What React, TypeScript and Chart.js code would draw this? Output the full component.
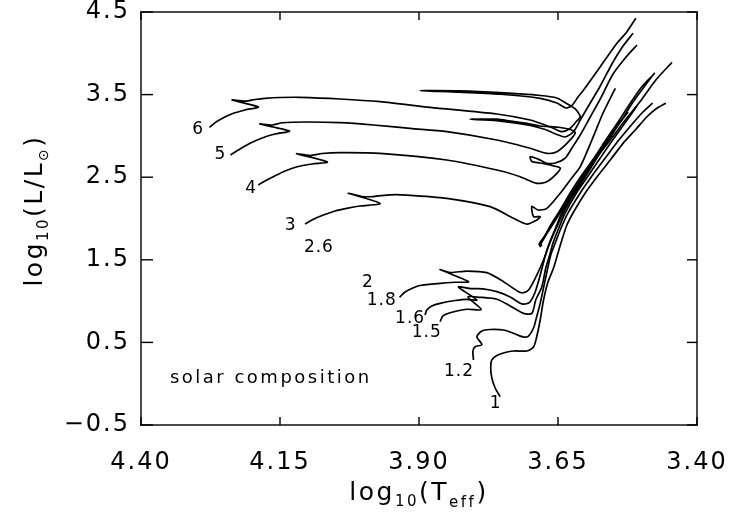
import { useEffect, useRef } from "react";
import { Chart, registerables } from "chart.js";

Chart.register(...registerables);

type P = [number, number];

// Evolutionary tracks, each point is [log10 Teff, log10 L/Lsun]
const track6: P[] = [
  [4.277, 3.104], [4.265, 3.168], [4.251, 3.223], [4.235, 3.271], [4.213, 3.314], [4.189, 3.35],
  [4.236, 3.435], [4.213, 3.422], [4.195, 3.441], [4.177, 3.455], [4.15, 3.465], [4.114, 3.467],
  [4.042, 3.447], [3.97, 3.414], [3.88, 3.346], [3.76, 3.265], [3.7, 3.192], [3.673, 3.132],
  [3.658, 3.092], [3.643, 3.051], [3.628, 3.092], [3.618, 3.168], [3.61, 3.232],
  [3.619, 3.326], [3.636, 3.398], [3.652, 3.459], [3.682, 3.489], [3.754, 3.523], [3.826, 3.544], [3.898, 3.547],
  [3.826, 3.529], [3.754, 3.504], [3.682, 3.455], [3.652, 3.398], [3.636, 3.338], [3.625, 3.368],
  [3.614, 3.471], [3.604, 3.556], [3.574, 3.838], [3.544, 4.121], [3.526, 4.262], [3.51, 4.424],
];

const track5: P[] = [
  [4.239, 2.769], [4.222, 2.841], [4.204, 2.91], [4.182, 2.975], [4.159, 3.023], [4.133, 3.059],
  [4.186, 3.144], [4.164, 3.132], [4.146, 3.159], [4.102, 3.168], [4.042, 3.16], [3.982, 3.132],
  [3.916, 3.09], [3.85, 3.051], [3.76, 2.95], [3.7, 2.85], [3.67, 2.789], [3.652, 2.809],
  [3.634, 2.91], [3.619, 3.035],
  [3.628, 3.077], [3.646, 3.102], [3.682, 3.12], [3.7, 3.144], [3.736, 3.18], [3.76, 3.202], [3.808, 3.201],
  [3.76, 3.186], [3.7, 3.126], [3.673, 3.077], [3.652, 3.017], [3.637, 2.987], [3.622, 3.051],
  [3.61, 3.192], [3.592, 3.398], [3.574, 3.604], [3.551, 3.895], [3.533, 4.088], [3.515, 4.242],
];

const track4: P[] = [
  [4.189, 2.406], [4.177, 2.454], [4.162, 2.506], [4.141, 2.575], [4.119, 2.627], [4.092, 2.66], [4.065, 2.684],
  [4.12, 2.784], [4.096, 2.763], [4.074, 2.787], [4.042, 2.797], [3.97, 2.789], [3.85, 2.708],
  [3.76, 2.587], [3.718, 2.506], [3.688, 2.426], [3.67, 2.445], [3.652, 2.547], [3.646, 2.611],
  [3.661, 2.642], [3.682, 2.672], [3.697, 2.69], [3.7, 2.748], [3.682, 2.708], [3.67, 2.668], [3.655, 2.672],
  [3.637, 2.732], [3.625, 2.853], [3.61, 3.011], [3.592, 3.229], [3.574, 3.447], [3.551, 3.749],
  [3.529, 3.943], [3.508, 4.1],
];

const track3: P[] = [
  [4.105, 1.933], [4.091, 1.988], [4.072, 2.042], [4.051, 2.091], [4.03, 2.123], [4.006, 2.151], [3.97, 2.182],
  [4.027, 2.305], [4.003, 2.266], [3.982, 2.266], [3.952, 2.287], [3.922, 2.284], [3.85, 2.244],
  [3.772, 2.143], [3.73, 2.002], [3.706, 1.933], [3.688, 1.982], [3.682, 2.024],
  [3.694, 2.022], [3.697, 2.145], [3.686, 2.103], [3.67, 2.123], [3.646, 2.305], [3.628, 2.466],
  [3.61, 2.627], [3.589, 2.95], [3.569, 3.277], [3.547, 3.576],
];

const track18: P[] = [
  [3.935, 1.046], [3.925, 1.11], [3.911, 1.158], [3.898, 1.189], [3.862, 1.215], [3.835, 1.228], [3.811, 1.235],
  [3.862, 1.382], [3.844, 1.346], [3.814, 1.364], [3.778, 1.344], [3.748, 1.235], [3.721, 1.114],
  [3.712, 1.102], [3.703, 1.134], [3.691, 1.276], [3.676, 1.498],
  [3.668, 1.643], [3.661, 1.764], [3.648, 1.958], [3.628, 2.224], [3.61, 2.406], [3.589, 2.636],
  [3.571, 2.829], [3.553, 3.023], [3.538, 3.18],
];

const track16: P[] = [
  [3.889, 0.832], [3.886, 0.892], [3.877, 0.941], [3.862, 0.973], [3.835, 1.007], [3.814, 1.022], [3.796, 1.013],
  [3.829, 1.171], [3.808, 1.152], [3.785, 1.149], [3.76, 1.114], [3.736, 1.05], [3.718, 0.973],
  [3.709, 0.965], [3.7, 0.993], [3.691, 1.11], [3.682, 1.316], [3.67, 1.619],
  [3.664, 1.728], [3.655, 1.873], [3.643, 2.067], [3.623, 2.297], [3.601, 2.527], [3.58, 2.744],
  [3.56, 2.938], [3.542, 3.132], [3.524, 3.289],
];

const track15: P[] = [
  [3.862, 0.75], [3.857, 0.82], [3.844, 0.859], [3.814, 0.901], [3.788, 0.898],
  [3.812, 1.05], [3.79, 1.046], [3.76, 1.022], [3.736, 0.941], [3.712, 0.852], [3.697, 0.852],
  [3.69, 1.013], [3.679, 1.174], [3.672, 1.401], [3.664, 1.579],
  [3.659, 1.703], [3.65, 1.861], [3.637, 2.067], [3.618, 2.297], [3.596, 2.514], [3.574, 2.732],
  [3.553, 2.938], [3.531, 3.144], [3.508, 3.362],
];

const track12: P[] = [
  [3.802, 0.287], [3.803, 0.396], [3.799, 0.448], [3.787, 0.474], [3.796, 0.569], [3.787, 0.638],
  [3.772, 0.656], [3.748, 0.65], [3.73, 0.61], [3.712, 0.565], [3.703, 0.577], [3.694, 0.674],
  [3.688, 0.82], [3.682, 0.973], [3.67, 1.352], [3.663, 1.558],
  [3.655, 1.703], [3.646, 1.861], [3.632, 2.067], [3.61, 2.309], [3.589, 2.514], [3.565, 2.732],
  [3.542, 2.938], [3.521, 3.108], [3.499, 3.277], [3.48, 3.398],
];

const track1: P[] = [
  [3.754, -0.158], [3.763, -0.052], [3.769, 0.069], [3.771, 0.19], [3.769, 0.287], [3.76, 0.341],
  [3.745, 0.378], [3.73, 0.396], [3.706, 0.396], [3.694, 0.444], [3.688, 0.577], [3.682, 0.771],
  [3.676, 1.013], [3.668, 1.231], [3.658, 1.401], [3.652, 1.537], [3.643, 1.74], [3.634, 1.921],
  [3.622, 2.079], [3.601, 2.309], [3.58, 2.502], [3.556, 2.708], [3.533, 2.91], [3.511, 3.071],
  [3.49, 3.232], [3.474, 3.326], [3.456, 3.395],
];

// Core helium burning and early AGB after the helium flash
const flash1: P[] = [
  [3.679, 1.667], [3.682, 1.703], [3.673, 1.788], [3.659, 1.933], [3.643, 2.103], [3.623, 2.309],
  [3.601, 2.527], [3.58, 2.744], [3.556, 2.95], [3.529, 3.192], [3.503, 3.41], [3.474, 3.677], [3.445, 3.891],
];
const flash12: P[] = [
  [3.681, 1.655], [3.684, 1.691], [3.675, 1.776], [3.661, 1.933], [3.645, 2.103], [3.625, 2.309],
  [3.603, 2.539], [3.582, 2.757], [3.56, 2.962], [3.538, 3.168], [3.515, 3.41], [3.494, 3.604], [3.476, 3.765],
];
const flash15: P[] = [
  [3.682, 1.679], [3.675, 1.764], [3.663, 1.921], [3.646, 2.103], [3.627, 2.321], [3.607, 2.527],
  [3.585, 2.732], [3.564, 2.95], [3.542, 3.168], [3.521, 3.386], [3.501, 3.58], [3.483, 3.713],
];

const tracks: P[][] = [
  track6, track5, track4, track3, track18, track16, track15, track12, track1, flash1, flash12, flash15,
];

// Initial mass labels (solar masses) and where they sit
const massLabels = ["6", "5", "4", "3", "2.6", "2", "1.8", "1.6", "1.5", "1.2", "1"];
const labelLogT = [4.297, 4.257, 4.202, 4.131, 4.08, 3.992, 3.967, 3.916, 3.886, 3.828, 3.762];
const labelLogL = [3.08, 2.769, 2.366, 1.909, 1.651, 1.228, 1.005, 0.792, 0.617, 0.145, -0.246];

const xTicks = [4.4, 4.15, 3.9, 3.65, 3.4];
const yTicks = [-0.5, 0.5, 1.5, 2.5, 3.5, 4.5];

const noteText = "solar composition";
const noteLogT = 4.348;
const noteLogL = 0.069;

const FONT = '"DejaVu Sans", "Liberation Sans", sans-serif';

type Run = { text: string; size: number; dy: number };

function drawRuns(ctx: CanvasRenderingContext2D, runs: Run[], x: number, y: number) {
  let total = 0;
  for (const r of runs) {
    ctx.font = `${r.size}px ${FONT}`;
    total += ctx.measureText(r.text).width;
  }
  let cx = x - total / 2;
  for (const r of runs) {
    ctx.font = `${r.size}px ${FONT}`;
    ctx.fillText(r.text, cx, y + r.dy);
    cx += ctx.measureText(r.text).width;
  }
}

function noAutoPadding(s: any) {
  s.paddingLeft = 0;
  s.paddingRight = 0;
  s.paddingTop = 0;
  s.paddingBottom = 0;
}

const decorations = {
  id: "decorations",
  beforeDraw(chart: any) {
    chart.ctx.letterSpacing = "2px";
  },
  afterDraw(chart: any) {
    const { ctx, chartArea: a, scales } = chart;
    const xs = scales.x;
    const ys = scales.y;
    ctx.save();
    ctx.letterSpacing = "0px";
    ctx.globalAlpha = 1;
    ctx.fillStyle = "#000";
    const w = 1.4;
    // plot frame
    ctx.fillRect(a.left - w / 2, a.top - w / 2, a.right - a.left + w, w);
    ctx.fillRect(a.left - w / 2, a.bottom - w / 2, a.right - a.left + w, w);
    ctx.fillRect(a.left - w / 2, a.top - w / 2, w, a.bottom - a.top + w);
    ctx.fillRect(a.right - w / 2, a.top - w / 2, w, a.bottom - a.top + w);
    // inward tick marks on all four sides
    for (const t of ys.ticks) {
      const y = ys.getPixelForValue(t.value);
      ctx.fillRect(a.left, y - w / 2, 12, w);
      ctx.fillRect(a.right - 10, y - w / 2, 10, w);
    }
    for (const t of xs.ticks) {
      const x = xs.getPixelForValue(t.value);
      ctx.fillRect(x - w / 2, a.bottom - 8, w, 8);
      ctx.fillRect(x - w / 2, a.top, w, 8);
    }

    ctx.textBaseline = "middle";
    ctx.textAlign = "center";
    ctx.letterSpacing = "1px";
    ctx.font = `17px ${FONT}`;
    massLabels.forEach((m, i) => {
      ctx.fillText(m, xs.getPixelForValue(labelLogT[i]), ys.getPixelForValue(labelLogL[i]));
    });

    ctx.textAlign = "left";
    ctx.letterSpacing = "2.5px";
    ctx.font = `18px ${FONT}`;
    ctx.fillText(noteText, xs.getPixelForValue(noteLogT), ys.getPixelForValue(noteLogL));

    // axis titles with subscripts
    ctx.textBaseline = "alphabetic";
    ctx.letterSpacing = "2.5px";
    drawRuns(
      ctx,
      [
        { text: "log", size: 25, dy: 0 },
        { text: "10", size: 15, dy: 6 },
        { text: "(T", size: 25, dy: 0 },
        { text: "eff", size: 15, dy: 7 },
        { text: ")", size: 25, dy: 0 },
      ],
      (a.left + a.right) / 2,
      500
    );
    ctx.save();
    ctx.translate(42, (a.top + a.bottom) / 2 - 8);
    ctx.rotate(-Math.PI / 2);
    drawRuns(
      ctx,
      [
        { text: "log", size: 25, dy: 0 },
        { text: "10", size: 15, dy: 6 },
        { text: "(L/L", size: 25, dy: 0 },
        { text: "\u2299", size: 14, dy: 6 },
        { text: ")", size: 25, dy: 0 },
      ],
      0,
      0
    );
    ctx.restore();
    ctx.restore();
    ctx.letterSpacing = "0px";
  },
};

export default function App() {
  const ref = useRef<HTMLCanvasElement | null>(null);

  useEffect(() => {
    if (!ref.current) return;
    const chart = new Chart(ref.current, {
      type: "scatter",
      data: {
        datasets: tracks.map((t, i) => ({
          label: `track ${i}`,
          data: t.map(([x, y]) => ({ x, y })),
          showLine: true,
          borderColor: "#000",
          backgroundColor: "#000",
          borderWidth: 1.7,
          pointRadius: 0,
          tension: 0.25,
          fill: false,
        })),
      },
      options: {
        responsive: false,
        animation: false,
        devicePixelRatio: 1,
        layout: { padding: { left: 0, right: 32, top: 12, bottom: 0 } },
        plugins: { legend: { display: false }, tooltip: { enabled: false } },
        scales: {
          x: {
            type: "linear",
            reverse: true,
            min: 3.4,
            max: 4.4,
            grid: { display: false, drawTicks: false },
            border: { display: false },
            afterBuildTicks: (s: any) => {
              s.ticks = xTicks.map((value) => ({ value }));
            },
            afterFit: (s: any) => {
              s.height = 88;
              noAutoPadding(s);
            },
            ticks: {
              padding: 27,
              color: "#000",
              maxRotation: 0,
              autoSkip: false,
              font: { family: FONT, size: 24, lineHeight: 0.9 },
              callback: (v: any) => Number(v).toFixed(2),
            },
          },
          y: {
            type: "linear",
            min: -0.5,
            max: 4.5,
            grid: { display: false, drawTicks: false },
            border: { display: false },
            afterBuildTicks: (s: any) => {
              s.ticks = yTicks.map((value) => ({ value }));
            },
            afterFit: (s: any) => {
              s.width = 141;
              noAutoPadding(s);
            },
            ticks: {
              padding: 11,
              color: "#000",
              autoSkip: false,
              font: { family: FONT, size: 24, lineHeight: 0.9 },
              callback: (v: any) => {
                const n = Number(v);
                return n < 0 ? "\u2212" + Math.abs(n).toFixed(1) : n.toFixed(1);
              },
            },
          },
        },
      },
      plugins: [decorations],
    });
    return () => chart.destroy();
  }, []);

  return (
    <div style={{ position: "absolute", left: 0, top: 0, width: 729, height: 513, background: "#fff" }}>
      <canvas ref={ref} width={729} height={513} style={{ display: "block" }} />
    </div>
  );
}
